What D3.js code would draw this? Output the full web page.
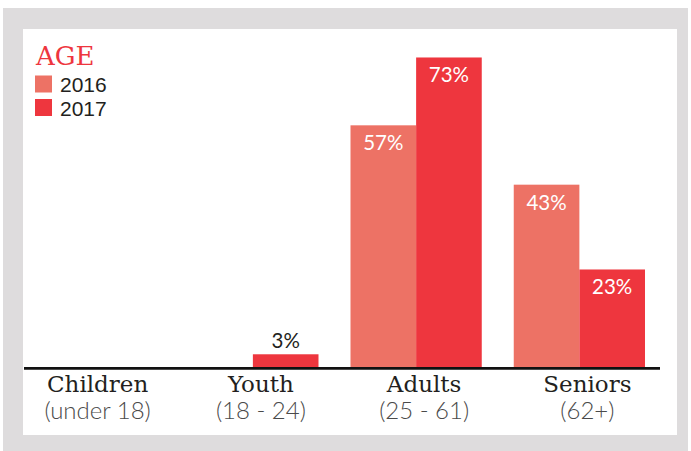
<!DOCTYPE html>
<html>
<head>
<meta charset="utf-8">
<script src="https://cdn.jsdelivr.net/npm/d3@7"></script>
<style>
  html, body { margin: 0; padding: 0; background: #ffffff; }
  svg { display: block; }
</style>
</head>
<body>
<svg id="chart" width="691" height="451"></svg>
<script>
// Age breakdown, share of respondents per year
const categories = ["Children", "Youth", "Adults", "Seniors"];
const subtitles = ["(under 18)", "(18 - 24)", "(25 - 61)", "(62+)"];
const years = ["2016", "2017"];
const values2016 = [null, null, 57, 43];
const values2017 = [null, 3, 73, 23];

const colors = { "2016": "#ed7265", "2017": "#ee363e" };

const svg = d3.select("#chart");

// frame and panel
svg.append("rect").attr("x", 3).attr("y", 8).attr("width", 685).attr("height", 443).attr("fill", "#dedcdd");
svg.append("rect").attr("x", 23).attr("y", 29).attr("width", 654).attr("height", 406).attr("fill", "#ffffff");

const baseY = 367;
const x = d3.scaleBand().domain(categories).range([24, 645]).paddingInner(0.196).paddingOuter(0);
const xs = d3.scaleBand().domain(years).range([0, x.bandwidth()]);
const y = d3.scaleLinear().domain([0, 80]).range([baseY, baseY - 80 * 4.24]);

const rows = [];
categories.forEach((c, i) => {
  [["2016", values2016[i]], ["2017", values2017[i]]].forEach(([yr, v]) => {
    if (v != null) rows.push({ cat: c, year: yr, value: v });
  });
});

const g = svg.append("g");
g.selectAll("rect.bar").data(rows).join("rect")
  .attr("class", "bar")
  .attr("x", d => x(d.cat) + xs(d.year))
  .attr("y", d => y(d.value))
  .attr("width", xs.bandwidth())
  .attr("height", d => y(0) - y(d.value))
  .attr("fill", d => colors[d.year]);

// value labels: inside tall bars, above short ones
g.selectAll("text.val").data(rows).join("text")
  .attr("class", "val")
  .attr("x", d => x(d.cat) + xs(d.year) + xs.bandwidth() / 2)
  .attr("y", d => d.value > 10 ? y(d.value) + 25 : y(d.value) - 6)
  .attr("text-anchor", "middle")
  .attr("font-family", "Lato, 'Open Sans', sans-serif")
  .attr("font-size", 20.5)
  .attr("fill", d => d.value > 10 ? "#ffffff" : "#231f20")
  .text(d => d.value + "%");

// baseline
svg.append("line").attr("x1", 24).attr("x2", 660)
  .attr("y1", baseY + 1.3).attr("y2", baseY + 1.3)
  .attr("stroke", "#111111").attr("stroke-width", 2.7);

// category axis
const axis = d3.axisBottom(x).tickSize(0).tickPadding(0);
const ax = svg.append("g").attr("transform", `translate(8,${baseY})`).call(axis);
ax.select(".domain").remove();
ax.selectAll(".tick text").remove();
ax.selectAll(".tick").each(function(d, i) {
  const t = d3.select(this);
  t.append("text").attr("y", 25).attr("text-anchor", "middle")
    .attr("font-family", "'DejaVu Serif', serif").attr("font-size", 23)
    .attr("fill", "#231f20").text(d);
  t.append("text").attr("y", 52).attr("text-anchor", "middle")
    .attr("font-family", "Lato, 'Open Sans', sans-serif").attr("font-weight", 300).attr("font-size", 24)
    .attr("fill", "#4a4a4a").text(subtitles[i]);
});

// title and legend
svg.append("text").attr("x", 36).attr("y", 65)
  .attr("font-family", "'DejaVu Serif', serif").attr("font-size", 26)
  .attr("fill", "#ee363e").text("AGE");
const leg = svg.append("g").selectAll("g").data(years).join("g")
  .attr("transform", (d, i) => `translate(35,${75.5 + i * 23.5})`);
leg.append("rect").attr("width", 17).attr("height", 17).attr("fill", d => colors[d]);
leg.append("text").attr("x", 25).attr("y", 16.5)
  .attr("font-family", "'Liberation Sans', Arial, sans-serif").attr("font-size", 21)
  .attr("fill", "#231f20").text(d => d);
</script>
</body>
</html>
